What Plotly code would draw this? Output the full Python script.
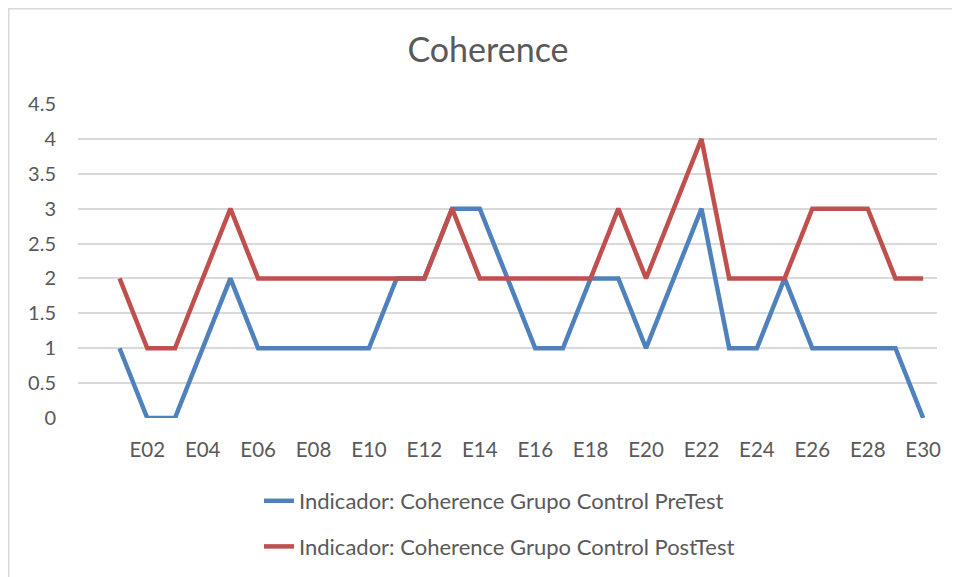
import plotly.graph_objects as go

# Students E01..E30 (the category axis has one leading empty slot, as in the source)
students = ["E%02d" % i for i in range(1, 31)]
pretest = [1, 0, 0, 1, 2, 1, 1, 1, 1, 1, 2, 2, 3, 3, 2,
           1, 1, 2, 2, 1, 2, 3, 1, 1, 2, 1, 1, 1, 1, 0]
posttest = [2, 1, 1, 2, 3, 2, 2, 2, 2, 2, 2, 2, 3, 2, 2,
            2, 2, 2, 3, 2, 3, 4, 2, 2, 2, 3, 3, 3, 2, 2]
y_ticks = [0, 0.5, 1, 1.5, 2, 2.5, 3, 3.5, 4, 4.5]

names = ["Indicador: Coherence Grupo Control PreTest",
         "Indicador: Coherence Grupo Control PostTest"]
colors = ["#4F81BD", "#C0504D"]

font = "Lato, Open Sans, sans-serif"
grey = "#595959"

xpos = list(range(1, len(students) + 1))

fig = go.Figure()
for name, vals, col in zip(names, [pretest, posttest], colors):
    fig.add_trace(go.Scatter(
        x=xpos, y=vals, mode="lines", name=name, legendgroup=name,
        line=dict(color=col, width=4.5),
    ))

# the html body adds an 8px offset, so page positions are shifted by O
O = 8
W, H = 960, 577
L, T = 78 - O, 104 - O
R = W - (937 - O)
B = H - (418 - O)
pw, ph = W - L - R, H - T - B


def px_x(page_x):
    return (page_x - O - L) / pw


def px_y(page_y):
    return 1 - (page_y - O - T) / ph


fig.update_layout(
    width=W, height=H,
    margin=dict(l=L, r=R, t=T, b=B),
    paper_bgcolor="white", plot_bgcolor="white",
    font=dict(family=font, size=20, color=grey),
    title=dict(text="Coherence", x=px_x(488), xref="paper", xanchor="center",
               y=1 - (50 - O) / H, yanchor="middle",
               font=dict(size=34, color=grey)),
    showlegend=True,
    legend=dict(orientation="v", x=px_x(259), xanchor="left",
                y=px_y(480), yanchor="top",
                tracegroupgap=14, font=dict(size=22, color=grey),
                bgcolor="rgba(0,0,0,0)"),
    xaxis=dict(range=[-0.5, len(students) + 0.5], tickmode="array",
               tickvals=xpos[1::2], ticktext=students[1::2],
               showgrid=False, zeroline=False, showline=False, ticks="",
               ticklabelstandoff=17, tickfont=dict(size=20.5, color=grey)),
    yaxis=dict(range=[0, 4.5], tickmode="array", tickvals=y_ticks,
               ticktext=[("%g" % v) for v in y_ticks],
               showgrid=True, gridcolor="#D9D9D9", gridwidth=1.5,
               zeroline=False, showline=False, ticks="",
               ticklabelstandoff=21, tickfont=dict(size=20, color=grey)),
    shapes=[dict(type="rect", xref="paper", yref="paper",
                 x0=px_x(8.8), x1=px_x(990),
                 y0=px_y(620), y1=px_y(8.8),
                 line=dict(color="#D9D9D9", width=1.5), layer="below")],
)

fig.write_html("out.html")
